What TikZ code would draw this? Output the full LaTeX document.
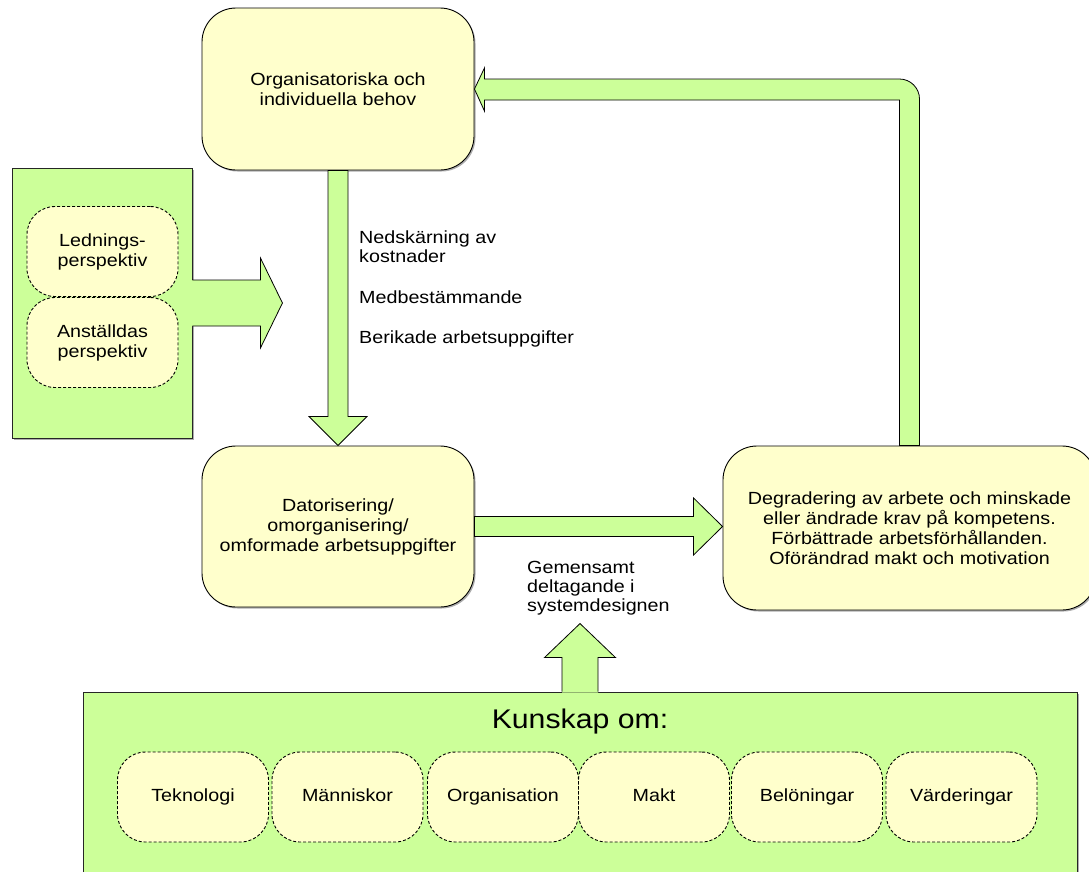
\documentclass[tikz,border=0pt]{standalone}
\usepackage{fontspec}
\setmainfont{Liberation Sans}[FakeStretch=1.12]
\usetikzlibrary{calc,shadows}
\definecolor{leaf}{HTML}{CCFF99}
\definecolor{cream}{HTML}{FFFFCC}
\tikzset{
  every node/.style={font=\fontsize{17.6}{20}\selectfont, text=black},
  boxshadow/.style={drop shadow={shadow xshift=1.5pt, shadow yshift=-1.5pt, fill=black!40, opacity=0.8}},
  mainbox/.style={draw=black, line width=0.9pt, fill=cream, rounded corners=34pt,
    minimum width=272pt, minimum height=162pt, align=center, inner sep=0pt, boxshadow},
  panel/.style={draw=black!85, line width=0.9pt, fill=leaf, inner sep=0pt, boxshadow},
  topic/.style={draw=black, line width=0.9pt, dash pattern=on 3pt off 2pt, fill=cream,
    rounded corners=28pt, minimum width=151pt, minimum height=90pt, align=center, inner sep=0pt},
  area/.style={topic, text height=13pt, text depth=4pt},
  arrowline/.style={draw=black, line width=0.8pt, line join=miter},
  blockarrow/.style={arrowline, fill=leaf},
  note/.style={anchor=base west, inner sep=0pt},
}
\begin{document}
\begin{tikzpicture}[x=1pt,y=-1pt]
\useasboundingbox (0,0) rectangle (1089,871);
\clip (0,0) rectangle (1089,871);

% green panels
\node[panel, minimum width=180pt, minimum height=270pt] (persp) at (102,303) {};
\node[panel, minimum width=994pt, minimum height=230pt] (kun) at (580,807) {};

% perspectives
\node[topic] (led) at (102.5,251.5) {Lednings-\\perspektiv};
\node[topic] (ans) at (102.5,342.5) {Anställdas\\perspektiv};

% knowledge areas
\node[anchor=base, font=\fontsize{27}{30}\selectfont] (kunt) at (580,728) {Kunskap om:};
\node[area] (tek) at (193,797) {Teknologi};
\node[area] (man) at (347.5,797) {Människor};
\node[area] (orgn) at (503,797) {Organisation};
\node[area] (makt) at (654,797) {Makt};
\node[area] (bel) at (807,797) {Belöningar};
\node[area] (var) at (961.5,797) {Värderingar};

% main boxes
\node[mainbox] (org) at (338,89) {Organisatoriska och\\individuella behov};
\node[mainbox, minimum height=161pt] (dat) at (338,526.5)
  {Datorisering/\\omorganisering/\\omformade arbetsuppgifter};
\node[mainbox, minimum width=373pt, minimum height=164pt] (deg) at (909.5,528)
  {Degradering av arbete och minskade\\eller ändrade krav på kompetens.\\Förbättrade arbetsförhållanden.\\Oförändrad makt och motivation};

% arrow out of the perspective panel
\coordinate (ptip) at ($(persp.east)+(90,0)$);
\fill[leaf] ($(persp.east)+(-1,-23)$) -- ($(persp.east)+(68,-23)$) -- ($(persp.east)+(68,-45)$)
  -- (ptip) -- ($(persp.east)+(68,45)$) -- ($(persp.east)+(68,23)$) -- ($(persp.east)+(-1,23)$) -- cycle;
\draw[arrowline] ($(persp.east)+(0,-23)$) -- ($(persp.east)+(68,-23)$) -- ($(persp.east)+(68,-45)$)
  -- (ptip) -- ($(persp.east)+(68,45)$) -- ($(persp.east)+(68,23)$) -- ($(persp.east)+(0,23)$);

% arrow out of the knowledge panel
\coordinate (ktip) at ($(kun.north)+(0,-68)$);
\fill[leaf] ($(kun.north)+(-18,1)$) -- ($(kun.north)+(-18,-34)$) -- ($(kun.north)+(-35.5,-34)$)
  -- (ktip) -- ($(kun.north)+(35.5,-34)$) -- ($(kun.north)+(18,-34)$) -- ($(kun.north)+(18,1)$) -- cycle;
\draw[arrowline] ($(kun.north)+(-18,0)$) -- ($(kun.north)+(-18,-34)$) -- ($(kun.north)+(-35.5,-34)$)
  -- (ktip) -- ($(kun.north)+(35.5,-34)$) -- ($(kun.north)+(18,-34)$) -- ($(kun.north)+(18,0)$);

% needs -> computerisation
\draw[blockarrow] ($(org.south)+(-10,0)$) -- ($(dat.north)+(-10,-29)$) -- ($(dat.north)+(-29,-29)$)
  -- (dat.north) -- ($(dat.north)+(29,-29)$) -- ($(dat.north)+(10,-29)$) -- ($(org.south)+(10,0)$) -- cycle;

% computerisation -> outcome
\coordinate (dtip) at (deg.west |- dat.east);
\draw[blockarrow] ($(dat.east)+(0,-10)$) -- ($(dtip)+(-29,-10)$) -- ($(dtip)+(-29,-28.5)$)
  -- (dtip) -- ($(dtip)+(-29,28.5)$) -- ($(dtip)+(-29,10)$) -- ($(dat.east)+(0,10)$) -- cycle;

% outcome -> needs (feedback loop)
\coordinate (ra) at ($(deg.north)+(-10,0)$);
\coordinate (rb) at ($(deg.north)+(10,0)$);
\coordinate (rtop) at ($(org.east)+(0,-10)$);
\coordinate (rin) at ($(org.east)+(10,11)$);
\draw[blockarrow] (ra) |- (rin) -- ($(org.east)+(10,22)$) -- (org.east) -- ($(org.east)+(10,-21)$)
  -- ($(org.east)+(10,-10)$) -- ($(rb |- rtop)+(-20,0)$)
  .. controls ($(rb |- rtop)+(-9,0)$) and ($(rb |- rtop)+(0,9)$) .. ($(rb |- rtop)+(0,20)$)
  -- (rb) -- cycle;

% labels
\node[note] (n1) at (359,243) {Nedskärning av};
\node[note] (n2) at (359,262) {kostnader};
\node[note] (n3) at (359,303) {Medbestämmande};
\node[note] (n4) at (359,343) {Berikade arbetsuppgifter};
\node[note] (g1) at (527,573) {Gemensamt};
\node[note] (g2) at (527,592) {deltagande i};
\node[note] (g3) at (527,611) {systemdesignen};
\end{tikzpicture}
\end{document}
